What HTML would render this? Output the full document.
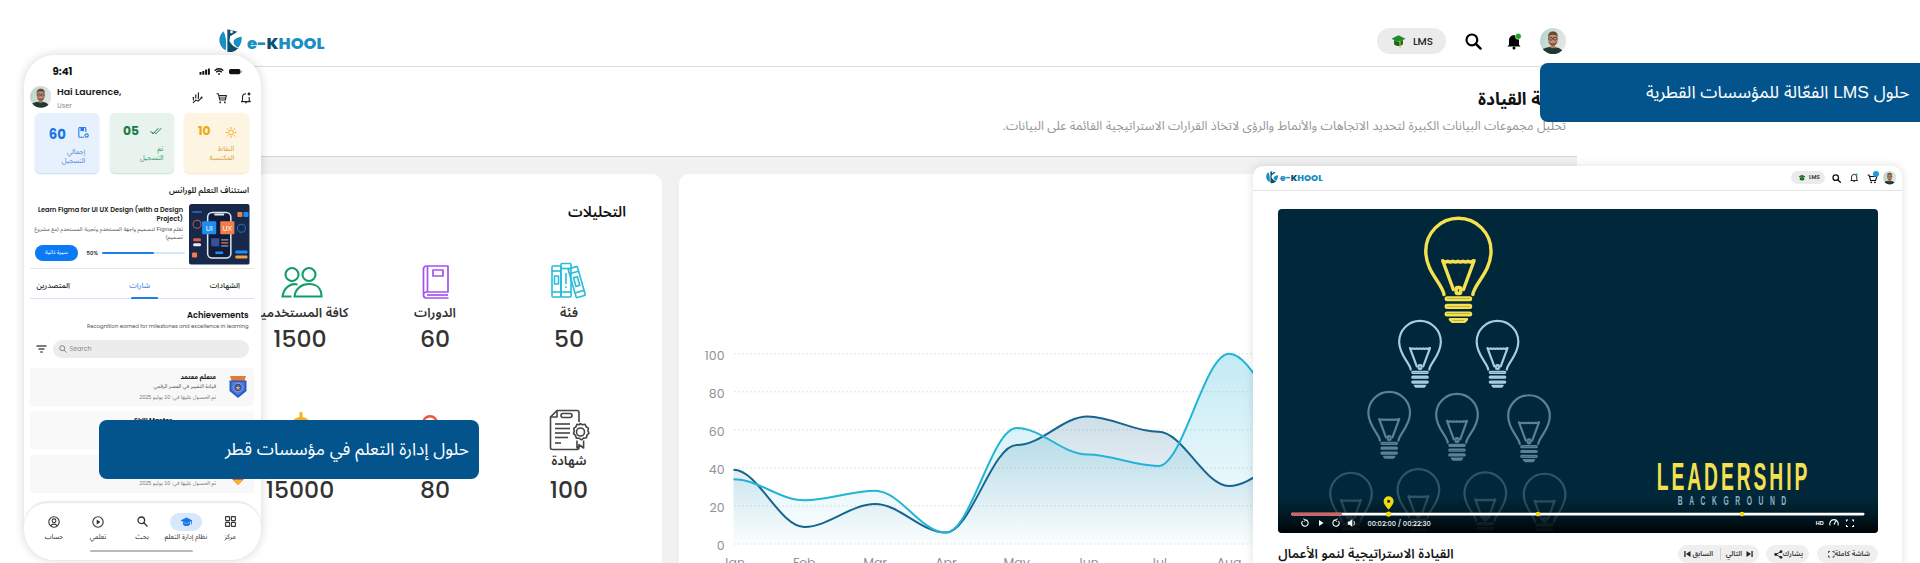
<!DOCTYPE html>
<html lang="ar">
<head>
<meta charset="utf-8">
<title>e-KHOOL LMS</title>
<style>
*{box-sizing:border-box;margin:0;padding:0}
html,body{width:1920px;height:563px;overflow:hidden;background:#fff}
body{position:relative;font-family:"Liberation Sans","Noto Sans Arabic","DejaVu Sans",sans-serif;color:#222}
.abs{position:absolute}
.ar{font-family:"Liberation Sans","Noto Sans Arabic","DejaVu Sans",sans-serif;direction:rtl}
.pp{font-family:"Poppins","Liberation Sans",sans-serif}
.ppar{font-family:"Poppins","Liberation Sans","Noto Sans Arabic","DejaVu Sans",sans-serif}
/* dashboard */
#hline{left:252px;top:65.5px;width:1700px;height:1.5px;background:#dcdcdc}
#gray{left:256px;top:156px;width:1321px;height:420px;background:#f1f1f1;border-top:1.5px solid #d5d5d5}
.card{background:#fff;border-radius:10px}
#c1{left:256px;top:174px;width:406px;height:420px}
#c2{left:679px;top:174px;width:641px;height:420px}
.pill{background:#ebebeb;border-radius:14px}
.banner{background:#03548c;color:#fff;border-radius:8px}
.lbl{text-align:center;font-size:13px;font-weight:600;color:#333;white-space:nowrap}
.num{text-align:center;font-size:23.5px;font-weight:500;color:#333;white-space:nowrap;line-height:1.3}
.av{border-radius:50%;background:radial-gradient(circle at 50% 40%, #c99a7d 0 22%, transparent 23%), radial-gradient(ellipse at 50% 100%, #2c3b3a 0 38%, transparent 39%), linear-gradient(135deg,#b5c9c2,#dfe7e3);}
.vbtn{height:18px;border-radius:9px;background:#efefef}
.vbt{font-size:7px;font-weight:600;color:#3a3a3a;white-space:nowrap;line-height:11px}
.scard{width:64.5px;height:59.5px;border-radius:5.5px}
.snum{font-size:12.3px;font-weight:700;line-height:16px}
.slbl{font-size:6.8px;line-height:9.6px;text-align:right;white-space:nowrap}
.tab{font-size:7.6px;font-weight:500;white-space:nowrap;line-height:14px}
.ltitle{font-size:6.4px;font-weight:700;color:#1b1b1b;white-space:nowrap;line-height:9px}
.lsub{font-size:5.3px;color:#555;white-space:nowrap;line-height:8px}
.nlbl{font-size:6.8px;color:#2a2a2a;text-align:center;white-space:nowrap;line-height:10px}
</style>
</head>
<body>
<!-- ============ DASHBOARD (background) ============ -->
<div id="hline" class="abs"></div>
<div id="gray" class="abs"></div>
<div id="c1" class="abs card"></div>
<div id="c2" class="abs card"></div>


<!-- chart -->
<svg class="abs" style="left:0;top:0" width="1920" height="563" viewBox="0 0 1920 563">
<defs>
<linearGradient id="gD" x1="0" y1="0" x2="0" y2="1"><stop offset="0" stop-color="#1c6e98" stop-opacity="0.22"/><stop offset="1" stop-color="#1c6e98" stop-opacity="0.0"/></linearGradient>
<linearGradient id="gC" x1="0" y1="0" x2="0" y2="1"><stop offset="0" stop-color="#27b6d6" stop-opacity="0.28"/><stop offset="1" stop-color="#27b6d6" stop-opacity="0.02"/></linearGradient>
</defs>
<g font-family="Poppins, Liberation Sans, sans-serif" font-size="12.5" fill="#8d939b"><text x="724.5" y="549.8" text-anchor="end">0</text><text x="724.5" y="511.7" text-anchor="end">20</text><text x="724.5" y="473.7" text-anchor="end">40</text><text x="724.5" y="435.7" text-anchor="end">60</text><text x="724.5" y="397.6" text-anchor="end">80</text><text x="724.5" y="359.6" text-anchor="end">100</text><text x="733.5" y="567" text-anchor="middle">Jan</text><text x="804.3" y="567" text-anchor="middle">Feb</text><text x="875.1" y="567" text-anchor="middle">Mar</text><text x="945.9" y="567" text-anchor="middle">Apr</text><text x="1016.7" y="567" text-anchor="middle">May</text><text x="1087.5" y="567" text-anchor="middle">Jun</text><text x="1158.3" y="567" text-anchor="middle">Jul</text><text x="1229.1" y="567" text-anchor="middle">Aug</text><text x="1299.9" y="567" text-anchor="middle">Sep</text></g>
<line x1="734" y1="544.0" x2="1300" y2="544.0" stroke="#e3e3e3" stroke-width="1" stroke-dasharray="2,2"/><line x1="734" y1="505.9" x2="1300" y2="505.9" stroke="#e3e3e3" stroke-width="1" stroke-dasharray="2,2"/><line x1="734" y1="467.9" x2="1300" y2="467.9" stroke="#e3e3e3" stroke-width="1" stroke-dasharray="2,2"/><line x1="734" y1="429.9" x2="1300" y2="429.9" stroke="#e3e3e3" stroke-width="1" stroke-dasharray="2,2"/><line x1="734" y1="391.8" x2="1300" y2="391.8" stroke="#e3e3e3" stroke-width="1" stroke-dasharray="2,2"/><line x1="734" y1="353.8" x2="1300" y2="353.8" stroke="#e3e3e3" stroke-width="1" stroke-dasharray="2,2"/>
<path d="M733.5,469.8 C758.3,469.8 779.5,526.9 804.3,526.9 C829.1,526.9 850.3,504.0 875.1,504.0 C899.9,504.0 921.1,532.6 945.9,532.6 C970.7,532.6 991.9,445.1 1016.7,445.1 C1041.5,445.1 1062.7,416.5 1087.5,416.5 C1112.3,416.5 1133.5,431.8 1158.3,431.8 C1183.1,431.8 1204.3,486.0 1229.1,486.0 C1253.9,486.0 1275.1,454.6 1299.9,454.6 L1299.9,544 L733.5,544 Z" fill="url(#gD)"/>
<path d="M733.5,479.3 C758.3,479.3 779.5,500.2 804.3,500.2 C829.1,500.2 850.3,490.7 875.1,490.7 C899.9,490.7 921.1,532.6 945.9,532.6 C970.7,532.6 991.9,427.9 1016.7,427.9 C1041.5,427.9 1062.7,454.6 1087.5,454.6 C1112.3,454.6 1133.5,466.0 1158.3,466.0 C1183.1,466.0 1204.3,353.8 1229.1,353.8 C1253.9,353.8 1275.1,426.0 1299.9,426.0 L1299.9,544 L733.5,544 Z" fill="url(#gC)"/>
<path d="M733.5,469.8 C758.3,469.8 779.5,526.9 804.3,526.9 C829.1,526.9 850.3,504.0 875.1,504.0 C899.9,504.0 921.1,532.6 945.9,532.6 C970.7,532.6 991.9,445.1 1016.7,445.1 C1041.5,445.1 1062.7,416.5 1087.5,416.5 C1112.3,416.5 1133.5,431.8 1158.3,431.8 C1183.1,431.8 1204.3,486.0 1229.1,486.0 C1253.9,486.0 1275.1,454.6 1299.9,454.6" fill="none" stroke="#17658f" stroke-width="2"/>
<path d="M733.5,479.3 C758.3,479.3 779.5,500.2 804.3,500.2 C829.1,500.2 850.3,490.7 875.1,490.7 C899.9,490.7 921.1,532.6 945.9,532.6 C970.7,532.6 991.9,427.9 1016.7,427.9 C1041.5,427.9 1062.7,454.6 1087.5,454.6 C1112.3,454.6 1133.5,466.0 1158.3,466.0 C1183.1,466.0 1204.3,353.8 1229.1,353.8 C1253.9,353.8 1275.1,426.0 1299.9,426.0" fill="none" stroke="#22b5d3" stroke-width="2"/>
</svg>
<!-- analytics card content -->
<div class="abs ar" style="right:1294px;top:197px;font-size:14.6px;font-weight:600;color:#111;white-space:nowrap">التحليلات</div>

<!-- row1 icons -->
<svg class="abs" style="left:550px;top:262px" width="38" height="37" viewBox="0 0 38 37" fill="none" stroke="#27bcd9" stroke-width="1.6" stroke-linejoin="round">
  <rect x="2" y="4" width="9" height="31" rx="1"/><line x1="2" y1="9" x2="11" y2="9"/><line x1="2" y1="30" x2="11" y2="30"/><rect x="4.5" y="14" width="4" height="8"/>
  <rect x="11" y="1.5" width="10" height="33.5" rx="1"/><line x1="11" y1="6.5" x2="21" y2="6.5"/><line x1="11" y1="30" x2="21" y2="30"/><line x1="16" y1="11" x2="16" y2="22"/><line x1="16" y1="24.5" x2="16" y2="26"/>
  <g transform="rotate(-16 27 20)"><rect x="22" y="5" width="9.5" height="30" rx="1"/><line x1="22" y1="10" x2="31.5" y2="10"/><line x1="22" y1="30" x2="31.5" y2="30"/><rect x="24.8" y="15" width="4" height="9"/></g>
</svg>
<svg class="abs" style="left:421px;top:264.5px" width="29" height="35" viewBox="0 0 29 35" fill="none" stroke="#a550f0" stroke-width="1.7" stroke-linejoin="round">
  <path d="M2.5,29 V4 a3,3 0 0 1 3,-3 H27 V27 H5.5 a3,3 0 0 0 0,6 H27.5"/><line x1="6.5" y1="1" x2="6.5" y2="27"/><line x1="6" y1="30" x2="27" y2="30"/><rect x="12" y="5" width="10" height="6"/>
</svg>
<svg class="abs" style="left:279.5px;top:266px" width="43" height="33" viewBox="0 0 43 33" fill="none" stroke="#129e68" stroke-width="2.1">
  <circle cx="12" cy="8.5" r="6.5"/><circle cx="29" cy="8.5" r="6.5"/>
  <path d="M17.5,18.5 C11,17 4,21 2.5,30.5 H11.5"/><path d="M14.5,30.5 C15.5,22 22,18 29,18 C36,18 41.5,22 41.5,30.5 Z"/>
</svg>

<div class="abs ar lbl" style="left:509px;width:120px;top:298.5px">فئة</div>
<div class="abs ar lbl" style="left:375px;width:120px;top:298.5px">الدورات</div>
<div class="abs ar lbl" style="left:240px;width:120px;top:298.5px">كافة المستخدمين</div>
<div class="abs pp num" style="left:509px;width:120px;top:324px">50</div>
<div class="abs pp num" style="left:375px;width:120px;top:324px">60</div>
<div class="abs pp num" style="left:240px;width:120px;top:324px">1500</div>

<!-- row2 -->
<svg class="abs" style="left:548px;top:409px" width="42" height="43" viewBox="0 0 42 43" fill="none" stroke="#444" stroke-width="1.6" stroke-linejoin="round">
  <path d="M31,13 V3.5 a2,2 0 0 0 -2,-2 H9 L2.5,8 V38.5 a2,2 0 0 0 2,2 H29 a2,2 0 0 0 2,-2 V35"/><path d="M9,1.5 V8 H2.5"/>
  <rect x="13" y="4.5" width="11" height="4" rx="2"/>
  <line x1="7" y1="15" x2="22" y2="15"/><line x1="7" y1="19.5" x2="22" y2="19.5"/><line x1="7" y1="24" x2="22" y2="24"/><line x1="7" y1="28.5" x2="20" y2="28.5"/><line x1="7" y1="34" x2="13" y2="34"/>
  <path d="M32,14.5 l2.5,1.3 2.6,-0.6 1,2.5 2.3,1.4 -0.5,2.7 1,2.5 -2,1.8 -0.5,2.7 -2.8,0.3 -2.2,1.7 -2.3,-1.6 -2.8,-0.1 -0.8,-2.7 -2,-1.8 0.8,-2.6 -0.6,-2.7 2.3,-1.5 0.9,-2.6 2.6,0.5 Z"/>
  <circle cx="32.5" cy="23" r="4"/>
  <path d="M29,31.5 V39 l3.3,-2.5 3.3,2.5 V31.5"/>
</svg>
<svg class="abs" style="left:290px;top:411px" width="22" height="14" viewBox="0 0 22 14"><rect x="9.5" y="1" width="3" height="6" rx="1" fill="#f2b31b"/><ellipse cx="11" cy="11" rx="8" ry="5" fill="#f2b31b"/></svg>
<svg class="abs" style="left:421px;top:413px" width="18" height="12" viewBox="0 0 18 12"><circle cx="9" cy="10" r="6.8" fill="none" stroke="#e9583b" stroke-width="2.4"/></svg>

<div class="abs ar lbl" style="left:509px;width:120px;top:446.5px">شهادة</div>
<div class="abs pp num" style="left:509px;width:120px;top:475px">100</div>
<div class="abs pp num" style="left:375px;width:120px;top:475px">80</div>
<div class="abs pp num" style="left:240px;width:120px;top:475px">15000</div>

<!-- logo -->
<div class="abs" style="left:219.4px;top:28.8px"><svg viewBox="0 0 24 24" width="23.6" height="23.6" style="display:block"><circle cx="11.8" cy="11.7" r="11.7" fill="#fff"/><path d="M4.6,2.3 A11.7,11.7 0 0 0 6.8,21.7 C7.8,16 7.6,8 4.6,2.3 Z" fill="#1b8ec2"/><path d="M8.5,0.3 L18.8,2.9 L11.3,7.5 L10.6,12.2 C12.5,16 15.5,18.8 19.6,19.7 A11.7,11.7 0 0 1 8.5,23.2 Z" fill="#0d4e6e"/><circle cx="12.7" cy="3.05" r="1.4" fill="#fff"/><path d="M23,8 C18,8.5 14.5,11 14.8,13.4 C15,16 17,18 19.9,18.8 C22.5,15.5 23.5,11.5 23,8 Z" fill="#1b8ec2"/></svg></div>
<div class="abs pp" style="left:247px;top:30.5px;font-size:16.4px;font-weight:800;color:#1b8ec2;letter-spacing:0px">e-<span style="color:#0c4e6d">K</span>HOOL</div>

<!-- header right -->
<div class="abs pill" style="left:1377px;top:28px;width:69px;height:26px"></div>
<div class="abs pp" style="left:1413px;top:33.5px;font-size:10.4px;font-weight:500;color:#222">LMS</div>
<svg class="abs" style="left:1390.5px;top:33.5px" width="15" height="15" viewBox="0 0 16 16"><path d="M0.5,5 L8,1.3 L15.5,5 L8,8.7 Z" fill="#1f8c27"/><path d="M3.3,6.5 V10.8 C5.5,13.4 10.5,13.4 12.7,10.8 V6.5 L8,8.9 Z" fill="#15661c"/><path d="M8.3,7.6 L9.6,8.4 V15" stroke="#f2b632" stroke-width="1.1" fill="none"/></svg>
<svg class="abs" style="left:1464.5px;top:32.5px" width="17" height="17" viewBox="0 0 17 17"><circle cx="6.9" cy="6.9" r="5.4" fill="none" stroke="#000" stroke-width="2.2"/><line x1="10.8" y1="10.8" x2="15.6" y2="15.6" stroke="#000" stroke-width="2.4" stroke-linecap="round"/></svg>
<svg class="abs" style="left:1505.5px;top:32.5px" width="16" height="17" viewBox="0 0 16 17"><path d="M3,11.8 V7.6 C3,4.3 5.2,2.3 8,2.3 C10.8,2.3 13,4.3 13,7.6 V11.8 L14.6,13.6 H1.4 Z" fill="#000"/><circle cx="8" cy="15" r="1.5" fill="#000"/><circle cx="12.3" cy="3.3" r="3" fill="#1ea51e" stroke="#fff" stroke-width="0.6"/></svg>
<svg class="abs" style="left:1540px;top:27.5px" width="26.2" height="26.2" viewBox="0 0 26 26"><defs><linearGradient id="aga" x1="0" y1="0" x2="1" y2="0.3"><stop offset="0" stop-color="#b4d5c9"/><stop offset="1" stop-color="#e3e6e3"/></linearGradient><clipPath id="aca"><circle cx="13" cy="13" r="13"/></clipPath></defs><g clip-path="url(#aca)"><rect width="26" height="26" fill="url(#aga)"/><path d="M-1,27 C0,20.5 6,18.6 12.5,18.8 C18.5,19 22.5,20.5 24.5,27 Z" fill="#1f3a33"/><rect x="10.5" y="15" width="4.5" height="5" fill="#b07d65"/><ellipse cx="12.8" cy="11.2" rx="4.7" ry="5.9" fill="#c68f74"/><path d="M8.2,12 C8.6,16.5 10.5,17.6 12.8,17.6 C15.2,17.6 17,16.5 17.4,12 C16.5,14.5 15,15 12.8,15 C10.6,15 9,14.5 8.2,12 Z" fill="#8c5a44"/><path d="M7.9,9.5 C7.6,5 10.3,3.4 12.9,3.4 C15.8,3.4 17.9,5 17.6,9.5 C16.8,7.2 15,6.6 12.8,6.6 C10.6,6.6 8.8,7.2 7.9,9.5 Z" fill="#6a4634"/><rect x="8.6" y="9.3" width="3.6" height="2.6" rx="0.8" fill="none" stroke="#2a2a2a" stroke-width="0.7"/><rect x="13.4" y="9.3" width="3.6" height="2.6" rx="0.8" fill="none" stroke="#2a2a2a" stroke-width="0.7"/></g></svg>

<!-- title -->
<div class="abs ar" style="right:354px;top:80.8px;font-size:17.3px;font-weight:700;color:#111;white-space:nowrap">لوحة القيادة</div>
<div class="abs ar" style="right:354px;top:113px;font-size:12.4px;color:#959595;white-space:nowrap">تحليل مجموعات البيانات الكبيرة لتحديد الاتجاهات والأنماط والرؤى لاتخاذ القرارات الاستراتيجية القائمة على البيانات.</div>


<!-- ============ VIDEO CARD ============ -->
<div id="vcard" class="abs" style="left:1253px;top:166px;width:649px;height:420px;background:#fff;border-radius:10px;box-shadow:0 0 9px 1px rgba(0,0,0,0.1)">
  <div class="abs" style="left:12.5px;top:5.3px"><svg viewBox="0 0 24 24" width="12.5" height="12.5" style="display:block"><circle cx="11.8" cy="11.7" r="11.7" fill="#fff"/><path d="M4.6,2.3 A11.7,11.7 0 0 0 6.8,21.7 C7.8,16 7.6,8 4.6,2.3 Z" fill="#1b8ec2"/><path d="M8.5,0.3 L18.8,2.9 L11.3,7.5 L10.6,12.2 C12.5,16 15.5,18.8 19.6,19.7 A11.7,11.7 0 0 1 8.5,23.2 Z" fill="#0d4e6e"/><circle cx="12.7" cy="3.05" r="1.4" fill="#fff"/><path d="M23,8 C18,8.5 14.5,11 14.8,13.4 C15,16 17,18 19.9,18.8 C22.5,15.5 23.5,11.5 23,8 Z" fill="#1b8ec2"/></svg></div>
  <div class="abs pp" style="left:27px;top:6.3px;font-size:9px;font-weight:800;color:#1b8ec2;letter-spacing:0">e-<span style="color:#0c4e6d">K</span>HOOL</div>
  <div class="abs pill" style="left:538px;top:5.2px;width:34px;height:13px;border-radius:7px"></div>
  <svg class="abs" style="left:545px;top:7.5px" width="8" height="8" viewBox="0 0 16 16"><path d="M1,5 L8,1.5 L15,5 L8,8.5 Z" fill="#1d7f22"/><path d="M3.5,6.5 V11 C6,13.5 10,13.5 12.5,11 V6.5 L8,9 Z" fill="#14601a"/></svg>
  <div class="abs pp" style="left:556px;top:7.3px;font-size:5.5px;font-weight:600;color:#333">LMS</div>
  <svg class="abs" style="left:579px;top:7.5px" width="9.2" height="9.2" viewBox="0 0 16 16"><circle cx="6.5" cy="6.5" r="4.8" fill="none" stroke="#111" stroke-width="2.2"/><line x1="10" y1="10" x2="14.5" y2="14.5" stroke="#111" stroke-width="2.4" stroke-linecap="round"/></svg>
  <svg class="abs" style="left:597px;top:7px" width="8.4" height="9.4" viewBox="0 0 16 18"><path d="M3,13 V8 C3,4.5 5.5,2.5 8,2.5 C10.5,2.5 13,4.5 13,8 V13 L14.5,14.5 H1.5 Z" fill="none" stroke="#111" stroke-width="1.8" stroke-linejoin="round"/><path d="M6.5,16 H9.5" stroke="#111" stroke-width="1.6"/><circle cx="12.5" cy="3" r="2.2" fill="#2bb04a"/></svg>
  <svg class="abs" style="left:614px;top:8px" width="11" height="10" viewBox="0 0 18 16"><path d="M1,1.5 H3.5 L6,10.5 H14 L16,4 H5" fill="none" stroke="#111" stroke-width="1.8" stroke-linejoin="round"/><circle cx="7" cy="13.5" r="1.5" fill="#111"/><circle cx="13" cy="13.5" r="1.5" fill="#111"/></svg>
  <div class="abs" style="left:619.8px;top:4.7px;width:6px;height:6px;border-radius:50%;background:#1f9ad6"></div>
  <svg class="abs" style="left:630px;top:5px" width="13.5" height="13.5" viewBox="0 0 26 26"><defs><linearGradient id="agb" x1="0" y1="0" x2="1" y2="0.3"><stop offset="0" stop-color="#b4d5c9"/><stop offset="1" stop-color="#e3e6e3"/></linearGradient><clipPath id="acb"><circle cx="13" cy="13" r="13"/></clipPath></defs><g clip-path="url(#acb)"><rect width="26" height="26" fill="url(#agb)"/><path d="M-1,27 C0,20.5 6,18.6 12.5,18.8 C18.5,19 22.5,20.5 24.5,27 Z" fill="#1f3a33"/><rect x="10.5" y="15" width="4.5" height="5" fill="#b07d65"/><ellipse cx="12.8" cy="11.2" rx="4.7" ry="5.9" fill="#c68f74"/><path d="M8.2,12 C8.6,16.5 10.5,17.6 12.8,17.6 C15.2,17.6 17,16.5 17.4,12 C16.5,14.5 15,15 12.8,15 C10.6,15 9,14.5 8.2,12 Z" fill="#8c5a44"/><path d="M7.9,9.5 C7.6,5 10.3,3.4 12.9,3.4 C15.8,3.4 17.9,5 17.6,9.5 C16.8,7.2 15,6.6 12.8,6.6 C10.6,6.6 8.8,7.2 7.9,9.5 Z" fill="#6a4634"/><rect x="8.6" y="9.3" width="3.6" height="2.6" rx="0.8" fill="none" stroke="#2a2a2a" stroke-width="0.7"/><rect x="13.4" y="9.3" width="3.6" height="2.6" rx="0.8" fill="none" stroke="#2a2a2a" stroke-width="0.7"/></g></svg>
  <div class="abs" style="left:0;top:23.8px;width:649px;height:1px;background:#e4e4e4"></div>

  <div class="abs" style="left:25px;top:42.5px;width:600px;height:324.5px;background:#01283a;border-radius:4px;overflow:hidden">
    <svg class="abs" style="left:0;top:0" width="600" height="325" viewBox="1278 208.5 600 325">
<g transform="translate(1458.4,216.3) scale(1.010)" fill="none" stroke="#f5e04f" stroke-width="3.40" stroke-linejoin="round" stroke-linecap="round" opacity="1"><path d="M-14.3,77 C-15.5,66 -32.3,55 -32.3,33.8 A32.3,32.3 0 1 1 32.3,33.8 C32.3,55 15.5,66 14.3,77"/><path d="M-15.5,43.5 L-5,72 M15.5,43.5 L5,72 M-15.5,43.5 q2.5,2 5,0.5 q2.5,1.5 5,0 q2.5,1.5 5,0 q2.5,1.5 5,0 q2.5,1.5 5,0 q2.5,1.5 5,-0.5"/><rect x="-2.2" y="70" width="4.4" height="6" rx="1.5"/><rect x="-12.5" y="79.9" width="25" height="2.6" rx="1.3" stroke-width="2.4"/><rect x="-12.5" y="87.4" width="25" height="2.6" rx="1.3" stroke-width="2.4"/><rect x="-12.5" y="94.9" width="25" height="2.6" rx="1.3" stroke-width="2.4"/><path d="M-8.5,101.5 H8.5 L6,104 H-6 Z" stroke-width="2.4"/></g>
<g transform="translate(1420.0,319.5) scale(0.645)" fill="none" stroke="#a6cee0" stroke-width="3.40" stroke-linejoin="round" stroke-linecap="round" opacity="1"><path d="M-14.3,77 C-15.5,66 -32.3,55 -32.3,33.8 A32.3,32.3 0 1 1 32.3,33.8 C32.3,55 15.5,66 14.3,77"/><path d="M-15.5,43.5 L-5,72 M15.5,43.5 L5,72 M-15.5,43.5 q2.5,2 5,0.5 q2.5,1.5 5,0 q2.5,1.5 5,0 q2.5,1.5 5,0 q2.5,1.5 5,0 q2.5,1.5 5,-0.5"/><rect x="-2.2" y="70" width="4.4" height="6" rx="1.5"/><rect x="-12.5" y="79.9" width="25" height="2.6" rx="1.3" stroke-width="2.4"/><rect x="-12.5" y="87.4" width="25" height="2.6" rx="1.3" stroke-width="2.4"/><rect x="-12.5" y="94.9" width="25" height="2.6" rx="1.3" stroke-width="2.4"/><path d="M-8.5,101.5 H8.5 L6,104 H-6 Z" stroke-width="2.4"/></g>
<g transform="translate(1497.5,319.5) scale(0.645)" fill="none" stroke="#a6cee0" stroke-width="3.40" stroke-linejoin="round" stroke-linecap="round" opacity="1"><path d="M-14.3,77 C-15.5,66 -32.3,55 -32.3,33.8 A32.3,32.3 0 1 1 32.3,33.8 C32.3,55 15.5,66 14.3,77"/><path d="M-15.5,43.5 L-5,72 M15.5,43.5 L5,72 M-15.5,43.5 q2.5,2 5,0.5 q2.5,1.5 5,0 q2.5,1.5 5,0 q2.5,1.5 5,0 q2.5,1.5 5,0 q2.5,1.5 5,-0.5"/><rect x="-2.2" y="70" width="4.4" height="6" rx="1.5"/><rect x="-12.5" y="79.9" width="25" height="2.6" rx="1.3" stroke-width="2.4"/><rect x="-12.5" y="87.4" width="25" height="2.6" rx="1.3" stroke-width="2.4"/><rect x="-12.5" y="94.9" width="25" height="2.6" rx="1.3" stroke-width="2.4"/><path d="M-8.5,101.5 H8.5 L6,104 H-6 Z" stroke-width="2.4"/></g>
<g transform="translate(1389.2,390.5) scale(0.645)" fill="none" stroke="#5b8195" stroke-width="3.40" stroke-linejoin="round" stroke-linecap="round" opacity="1"><path d="M-14.3,77 C-15.5,66 -32.3,55 -32.3,33.8 A32.3,32.3 0 1 1 32.3,33.8 C32.3,55 15.5,66 14.3,77"/><path d="M-15.5,43.5 L-5,72 M15.5,43.5 L5,72 M-15.5,43.5 q2.5,2 5,0.5 q2.5,1.5 5,0 q2.5,1.5 5,0 q2.5,1.5 5,0 q2.5,1.5 5,0 q2.5,1.5 5,-0.5"/><rect x="-2.2" y="70" width="4.4" height="6" rx="1.5"/><rect x="-12.5" y="79.9" width="25" height="2.6" rx="1.3" stroke-width="2.4"/><rect x="-12.5" y="87.4" width="25" height="2.6" rx="1.3" stroke-width="2.4"/><rect x="-12.5" y="94.9" width="25" height="2.6" rx="1.3" stroke-width="2.4"/><path d="M-8.5,101.5 H8.5 L6,104 H-6 Z" stroke-width="2.4"/></g>
<g transform="translate(1457.0,392.4) scale(0.645)" fill="none" stroke="#5b8195" stroke-width="3.40" stroke-linejoin="round" stroke-linecap="round" opacity="1"><path d="M-14.3,77 C-15.5,66 -32.3,55 -32.3,33.8 A32.3,32.3 0 1 1 32.3,33.8 C32.3,55 15.5,66 14.3,77"/><path d="M-15.5,43.5 L-5,72 M15.5,43.5 L5,72 M-15.5,43.5 q2.5,2 5,0.5 q2.5,1.5 5,0 q2.5,1.5 5,0 q2.5,1.5 5,0 q2.5,1.5 5,0 q2.5,1.5 5,-0.5"/><rect x="-2.2" y="70" width="4.4" height="6" rx="1.5"/><rect x="-12.5" y="79.9" width="25" height="2.6" rx="1.3" stroke-width="2.4"/><rect x="-12.5" y="87.4" width="25" height="2.6" rx="1.3" stroke-width="2.4"/><rect x="-12.5" y="94.9" width="25" height="2.6" rx="1.3" stroke-width="2.4"/><path d="M-8.5,101.5 H8.5 L6,104 H-6 Z" stroke-width="2.4"/></g>
<g transform="translate(1529.0,393.8) scale(0.645)" fill="none" stroke="#5b8195" stroke-width="3.40" stroke-linejoin="round" stroke-linecap="round" opacity="1"><path d="M-14.3,77 C-15.5,66 -32.3,55 -32.3,33.8 A32.3,32.3 0 1 1 32.3,33.8 C32.3,55 15.5,66 14.3,77"/><path d="M-15.5,43.5 L-5,72 M15.5,43.5 L5,72 M-15.5,43.5 q2.5,2 5,0.5 q2.5,1.5 5,0 q2.5,1.5 5,0 q2.5,1.5 5,0 q2.5,1.5 5,0 q2.5,1.5 5,-0.5"/><rect x="-2.2" y="70" width="4.4" height="6" rx="1.5"/><rect x="-12.5" y="79.9" width="25" height="2.6" rx="1.3" stroke-width="2.4"/><rect x="-12.5" y="87.4" width="25" height="2.6" rx="1.3" stroke-width="2.4"/><rect x="-12.5" y="94.9" width="25" height="2.6" rx="1.3" stroke-width="2.4"/><path d="M-8.5,101.5 H8.5 L6,104 H-6 Z" stroke-width="2.4"/></g>
<g transform="translate(1351.0,471.5) scale(0.645)" fill="none" stroke="#2f5467" stroke-width="3.40" stroke-linejoin="round" stroke-linecap="round" opacity="1"><path d="M-14.3,77 C-15.5,66 -32.3,55 -32.3,33.8 A32.3,32.3 0 1 1 32.3,33.8 C32.3,55 15.5,66 14.3,77"/><path d="M-15.5,43.5 L-5,72 M15.5,43.5 L5,72 M-15.5,43.5 q2.5,2 5,0.5 q2.5,1.5 5,0 q2.5,1.5 5,0 q2.5,1.5 5,0 q2.5,1.5 5,0 q2.5,1.5 5,-0.5"/><rect x="-2.2" y="70" width="4.4" height="6" rx="1.5"/><rect x="-12.5" y="79.9" width="25" height="2.6" rx="1.3" stroke-width="2.4"/><rect x="-12.5" y="87.4" width="25" height="2.6" rx="1.3" stroke-width="2.4"/><rect x="-12.5" y="94.9" width="25" height="2.6" rx="1.3" stroke-width="2.4"/><path d="M-8.5,101.5 H8.5 L6,104 H-6 Z" stroke-width="2.4"/></g>
<g transform="translate(1418.4,467.6) scale(0.645)" fill="none" stroke="#2f5467" stroke-width="3.40" stroke-linejoin="round" stroke-linecap="round" opacity="1"><path d="M-14.3,77 C-15.5,66 -32.3,55 -32.3,33.8 A32.3,32.3 0 1 1 32.3,33.8 C32.3,55 15.5,66 14.3,77"/><path d="M-15.5,43.5 L-5,72 M15.5,43.5 L5,72 M-15.5,43.5 q2.5,2 5,0.5 q2.5,1.5 5,0 q2.5,1.5 5,0 q2.5,1.5 5,0 q2.5,1.5 5,0 q2.5,1.5 5,-0.5"/><rect x="-2.2" y="70" width="4.4" height="6" rx="1.5"/><rect x="-12.5" y="79.9" width="25" height="2.6" rx="1.3" stroke-width="2.4"/><rect x="-12.5" y="87.4" width="25" height="2.6" rx="1.3" stroke-width="2.4"/><rect x="-12.5" y="94.9" width="25" height="2.6" rx="1.3" stroke-width="2.4"/><path d="M-8.5,101.5 H8.5 L6,104 H-6 Z" stroke-width="2.4"/></g>
<g transform="translate(1485.3,470.9) scale(0.645)" fill="none" stroke="#2f5467" stroke-width="3.40" stroke-linejoin="round" stroke-linecap="round" opacity="1"><path d="M-14.3,77 C-15.5,66 -32.3,55 -32.3,33.8 A32.3,32.3 0 1 1 32.3,33.8 C32.3,55 15.5,66 14.3,77"/><path d="M-15.5,43.5 L-5,72 M15.5,43.5 L5,72 M-15.5,43.5 q2.5,2 5,0.5 q2.5,1.5 5,0 q2.5,1.5 5,0 q2.5,1.5 5,0 q2.5,1.5 5,0 q2.5,1.5 5,-0.5"/><rect x="-2.2" y="70" width="4.4" height="6" rx="1.5"/><rect x="-12.5" y="79.9" width="25" height="2.6" rx="1.3" stroke-width="2.4"/><rect x="-12.5" y="87.4" width="25" height="2.6" rx="1.3" stroke-width="2.4"/><rect x="-12.5" y="94.9" width="25" height="2.6" rx="1.3" stroke-width="2.4"/><path d="M-8.5,101.5 H8.5 L6,104 H-6 Z" stroke-width="2.4"/></g>
<g transform="translate(1544.6,472.3) scale(0.645)" fill="none" stroke="#2f5467" stroke-width="3.40" stroke-linejoin="round" stroke-linecap="round" opacity="1"><path d="M-14.3,77 C-15.5,66 -32.3,55 -32.3,33.8 A32.3,32.3 0 1 1 32.3,33.8 C32.3,55 15.5,66 14.3,77"/><path d="M-15.5,43.5 L-5,72 M15.5,43.5 L5,72 M-15.5,43.5 q2.5,2 5,0.5 q2.5,1.5 5,0 q2.5,1.5 5,0 q2.5,1.5 5,0 q2.5,1.5 5,0 q2.5,1.5 5,-0.5"/><rect x="-2.2" y="70" width="4.4" height="6" rx="1.5"/><rect x="-12.5" y="79.9" width="25" height="2.6" rx="1.3" stroke-width="2.4"/><rect x="-12.5" y="87.4" width="25" height="2.6" rx="1.3" stroke-width="2.4"/><rect x="-12.5" y="94.9" width="25" height="2.6" rx="1.3" stroke-width="2.4"/><path d="M-8.5,101.5 H8.5 L6,104 H-6 Z" stroke-width="2.4"/></g>
      <defs><linearGradient id="vg" x1="0" y1="0" x2="0" y2="1"><stop offset="0" stop-color="#000" stop-opacity="0"/><stop offset="0.45" stop-color="#000" stop-opacity="0.35"/><stop offset="1" stop-color="#000" stop-opacity="0.95"/></linearGradient></defs>
      <rect x="1278" y="497" width="600" height="37" fill="url(#vg)"/>
      <rect x="1291" y="512.3" width="573.5" height="2.6" rx="1.3" fill="#fff"/>
      <rect x="1291" y="512.3" width="51" height="2.6" rx="1.3" fill="#e45b5b"/>
      <circle cx="1388.6" cy="513.6" r="2.6" fill="#f4d90c"/><circle cx="1538" cy="513.6" r="2.3" fill="#f4d90c"/><circle cx="1742" cy="513.6" r="2.3" fill="#f4d90c"/>
      <path d="M1388.6,509.2 C1385.5,505.5 1383.6,503.5 1383.6,500.8 A5,5 0 0 1 1393.6,500.8 C1393.6,503.5 1391.7,505.5 1388.6,509.2 Z" fill="#f4d90c"/><circle cx="1388.6" cy="500.8" r="1.5" fill="#01283a"/>
      <g fill="none" stroke="#fff" stroke-width="1.1">
        <path d="M1302.5,520.5 A3.2,3.2 0 1 0 1305.5,519.4"/><path d="M1303.2,518.3 L1305.6,519.4 L1304,521.3" stroke-width="0.9"/>
        <path d="M1338.5,520.5 A3.2,3.2 0 1 1 1335.5,519.4"/><path d="M1337.8,518.3 L1335.4,519.4 L1337,521.3" stroke-width="0.9"/>
      </g>
      <path d="M1319,519.6 L1323.5,522.6 L1319,525.6 Z" fill="#fff"/>
      <path d="M1347.8,521 H1349.6 L1352.3,518.6 V526.6 L1349.6,524.2 H1347.8 Z" fill="#fff"/><path d="M1353.8,520.4 Q1355.2,522.6 1353.8,524.8" fill="none" stroke="#fff" stroke-width="0.9"/>
      <text x="1367.4" y="525" font-family="Poppins, Liberation Sans, sans-serif" font-size="6.7" font-weight="500" fill="#fff">00:02:00 / 00:22:30</text>
      <text x="1815.8" y="524.8" font-family="Liberation Sans, sans-serif" font-size="5.5" font-weight="700" fill="#fff">HD</text>
      <path d="M1830,525 A4.3,4.3 0 1 1 1838,525" fill="none" stroke="#fff" stroke-width="1.2"/><path d="M1834,524 L1836,520.3" stroke="#fff" stroke-width="1.1"/>
      <path d="M1846.5,521 V519.5 H1848 M1852,519.5 H1853.5 V521 M1853.5,524.5 V526 H1852 M1848,526 H1846.5 V524.5" fill="none" stroke="#fff" stroke-width="1.1"/>
    </svg>
    <div class="abs" style="left:253.75px;top:249.5px;width:400px;padding-left:5.9px;text-align:center;font-family:'Liberation Sans',sans-serif;font-weight:700;font-size:38.5px;line-height:38.5px;color:#f5e04f;transform:scaleX(0.5);transform-origin:center;letter-spacing:5.9px;white-space:nowrap">LEADERSHIP</div>
    <div class="abs" style="left:303.75px;top:286px;width:300px;padding-left:11.9px;text-align:center;font-family:'Liberation Sans',sans-serif;font-weight:700;font-size:12.3px;line-height:12.3px;color:#8fb3cb;transform:scaleX(0.55);transform-origin:center;letter-spacing:11.9px;white-space:nowrap">BACKGROUND</div>
  </div>

  <div class="abs ar" style="left:25.3px;top:374px;font-size:13px;font-weight:600;color:#161616;white-space:nowrap;direction:rtl">القيادة الاستراتيجية لنمو الأعمال</div>
  <div class="abs vbtn" style="left:425px;top:379px;width:80.5px"></div>
  <div class="abs vbtn" style="left:513.3px;top:379px;width:43px"></div>
  <div class="abs vbtn" style="left:564.2px;top:379px;width:61px"></div>
  <div class="abs" style="left:467px;top:382px;width:0.8px;height:11.5px;background:#d0d0d0"></div>
  <svg class="abs" style="left:430.5px;top:385px" width="7" height="6" viewBox="0 0 7 6"><rect x="0.3" y="0" width="1.3" height="6" fill="#222"/><path d="M6.5,0 V6 L2,3 Z" fill="#222"/></svg>
  <div class="abs ar vbt" style="right:189px;top:382px">السابق</div>
  <div class="abs ar vbt" style="right:160px;top:382px">التالي</div>
  <svg class="abs" style="left:493px;top:385px" width="7" height="6" viewBox="0 0 7 6"><path d="M0.5,0 V6 L5,3 Z" fill="#222"/><rect x="5.4" y="0" width="1.3" height="6" fill="#222"/></svg>
  <svg class="abs" style="left:520.5px;top:383.5px" width="9" height="9" viewBox="0 0 9 9" fill="#222"><circle cx="7" cy="1.7" r="1.4"/><circle cx="1.7" cy="4.5" r="1.4"/><circle cx="7" cy="7.3" r="1.4"/><path d="M7,1.7 L1.7,4.5 L7,7.3" fill="none" stroke="#222" stroke-width="0.9"/></svg>
  <div class="abs ar vbt" style="right:99px;top:382px">يشارك</div>
  <svg class="abs" style="left:575px;top:385px" width="6.5" height="6.5" viewBox="0 0 7 7" fill="none" stroke="#222" stroke-width="0.9"><path d="M0.5,2.2 V0.5 H2.2 M4.8,0.5 H6.5 V2.2 M6.5,4.8 V6.5 H4.8 M2.2,6.5 H0.5 V4.8"/></svg>
  <div class="abs ar vbt" style="right:32px;top:382px">شاشة كاملة</div>
</div>

<!-- ============ PHONE ============ -->
<div id="phone" class="abs" style="left:24px;top:55px;width:237px;height:505px;background:#fff;border-radius:31px;box-shadow:0 0 10px 1px rgba(0,0,0,0.14);overflow:hidden">
 <div class="abs" style="left:-24px;top:-55px;width:300px;height:620px">
  <!-- status bar -->
  <div class="abs pp" style="left:52.5px;top:65px;font-size:10.2px;font-weight:700;color:#111;line-height:14px">9:41</div>
  <svg class="abs" style="left:198.5px;top:67.5px" width="45" height="7" viewBox="0 0 45 7">
    <rect x="0.5" y="4" width="2" height="2.8" rx="0.5" fill="#111"/><rect x="3.3" y="3" width="2" height="3.8" rx="0.5" fill="#111"/><rect x="6.1" y="1.6" width="2" height="5.2" rx="0.5" fill="#111"/><rect x="8.9" y="0.4" width="2" height="6.4" rx="0.5" fill="#111"/>
    <path d="M15.6,2.6 A6.2,6.2 0 0 1 24.4,2.6" fill="none" stroke="#111" stroke-width="1.3"/><path d="M17.2,4.2 A3.9,3.9 0 0 1 22.8,4.2" fill="none" stroke="#111" stroke-width="1.3"/><circle cx="20" cy="6" r="0.9" fill="#111"/>
    <rect x="30" y="0.9" width="11.5" height="5.4" rx="1.8" fill="#111"/><rect x="42.3" y="2.6" width="1" height="2" rx="0.4" fill="#999"/>
  </svg>
  <!-- user -->
  <svg class="abs" style="left:29.7px;top:86.4px" width="21.8" height="21.8" viewBox="0 0 26 26"><defs><linearGradient id="agc" x1="0" y1="0" x2="1" y2="0.3"><stop offset="0" stop-color="#b4d5c9"/><stop offset="1" stop-color="#e3e6e3"/></linearGradient><clipPath id="acc"><circle cx="13" cy="13" r="13"/></clipPath></defs><g clip-path="url(#acc)"><rect width="26" height="26" fill="url(#agc)"/><path d="M-1,27 C0,20.5 6,18.6 12.5,18.8 C18.5,19 22.5,20.5 24.5,27 Z" fill="#1f3a33"/><rect x="10.5" y="15" width="4.5" height="5" fill="#b07d65"/><ellipse cx="12.8" cy="11.2" rx="4.7" ry="5.9" fill="#c68f74"/><path d="M8.2,12 C8.6,16.5 10.5,17.6 12.8,17.6 C15.2,17.6 17,16.5 17.4,12 C16.5,14.5 15,15 12.8,15 C10.6,15 9,14.5 8.2,12 Z" fill="#8c5a44"/><path d="M7.9,9.5 C7.6,5 10.3,3.4 12.9,3.4 C15.8,3.4 17.9,5 17.6,9.5 C16.8,7.2 15,6.6 12.8,6.6 C10.6,6.6 8.8,7.2 7.9,9.5 Z" fill="#6a4634"/><rect x="8.6" y="9.3" width="3.6" height="2.6" rx="0.8" fill="none" stroke="#2a2a2a" stroke-width="0.7"/><rect x="13.4" y="9.3" width="3.6" height="2.6" rx="0.8" fill="none" stroke="#2a2a2a" stroke-width="0.7"/></g></svg>
  <div class="abs pp" style="left:57px;top:85px;font-size:9.4px;font-weight:600;color:#1b1b1b;line-height:13px;white-space:nowrap">Hai Laurence,</div>
  <div class="abs pp" style="left:57.3px;top:100.5px;font-size:6.6px;color:#8a8a8a;line-height:9px">User</div>
  <svg class="abs" style="left:192px;top:92px" width="12" height="12" viewBox="0 0 12 12" fill="none" stroke="#222" stroke-width="1.15" stroke-linecap="round"><line x1="1.4" y1="5.3" x2="1.4" y2="8"/><line x1="3.8" y1="2.8" x2="3.8" y2="6"/><line x1="6.4" y1="0.8" x2="6.4" y2="6.6"/><path d="M1.2,10.6 L3.9,8.1 L6.1,9.1 L9.5,5.8"/><circle cx="9.6" cy="5.6" r="1" fill="#222" stroke="none"/></svg>
  <svg class="abs" style="left:215.5px;top:92.5px" width="11" height="11" viewBox="0 0 11 11" fill="none" stroke="#222" stroke-width="1.1" stroke-linejoin="round"><path d="M0.5,0.8 H2.4 L3.8,7 H9.3 L10.4,2.6 H3"/><line x1="3.5" y1="5" x2="9.8" y2="5"/><rect x="3.4" y="8.6" width="1.6" height="1.6" fill="#222" stroke="none"/><rect x="8" y="8.6" width="1.6" height="1.6" fill="#222" stroke="none"/></svg>
  <svg class="abs" style="left:241px;top:92px" width="10" height="11.5" viewBox="0 0 10 11.5" fill="none" stroke="#222" stroke-width="1.1" stroke-linejoin="round"><path d="M1.5,8.6 V5.2 C1.5,3 3,1.7 5,1.7 M8.2,5 V8.6 L9.3,9.6 H0.4 L1.5,8.6"/><path d="M4,10.8 H6"/><circle cx="8" cy="2" r="1.4" fill="#222" stroke="none"/></svg>

  <!-- stat cards -->
  <div class="abs scard" style="left:34.8px;top:113.2px;background:#e7f0fd;box-shadow:0 1px 1.5px rgba(90,140,210,0.35)"></div>
  <div class="abs scard" style="left:109.5px;top:113.2px;background:#e7f3ec;box-shadow:0 1px 1.5px rgba(90,160,120,0.35)"></div>
  <div class="abs scard" style="left:184.2px;top:113.2px;background:#fdf4e2;box-shadow:0 1px 1.5px rgba(220,180,100,0.35)"></div>
  <div class="abs pp snum" style="left:48.8px;top:127px;color:#1877e0;font-size:13.2px">60</div>
  <div class="abs pp snum" style="left:123px;top:122.6px;color:#1d7a47">05</div>
  <div class="abs pp snum" style="left:198px;top:122.6px;color:#f0a80c">10</div>
  <svg class="abs" style="left:77.8px;top:127.2px" width="11" height="11" viewBox="0 0 11 11" fill="none" stroke="#2b7de0" stroke-width="1.1"><path d="M6,10.2 H1.8 a1,1 0 0 1 -1,-1 V1.5 a1,1 0 0 1 1,-1 H6.8 a1,1 0 0 1 1,1 V5"/><rect x="3" y="0.6" width="2.5" height="3" fill="#2b7de0"/><circle cx="8.6" cy="8.5" r="2.2" fill="#2b7de0" stroke="none"/><path d="M8.6,7.4 V9.6 M7.5,8.5 H9.7" stroke="#fff" stroke-width="0.8"/></svg>
  <svg class="abs" style="left:150px;top:127px" width="12" height="8" viewBox="0 0 12 8" fill="none" stroke="#1d7a47" stroke-width="1" stroke-linecap="round"><path d="M0.8,4.5 L3,6.8 L8,1.5"/><path d="M4.5,5.5 L5.8,6.8 L11,1.5"/><path d="M2.5,5.5 L3.5,6.5" /></svg>
  <svg class="abs" style="left:225px;top:125.5px" width="12" height="12" viewBox="0 0 12 12" fill="none" stroke="#f0a80c" stroke-width="0.9"><circle cx="6" cy="6.5" r="2.4"/><path d="M6,1 V3 M6,10 V12 M0.5,6.5 H2.5 M9.5,6.5 H11.5 M2,2.5 L3.4,3.9 M8.6,9.1 L10,10.5 M10,2.5 L8.6,3.9 M3.4,9.1 L2,10.5"/></svg>
  <div class="abs ar slbl" style="right:214.8px;top:146.5px;color:#4f83d6">إجمالي<br>التسجيل</div>
  <div class="abs ar slbl" style="right:136.6px;top:143.5px;color:#2f9a5e">تم<br>التسجيل</div>
  <div class="abs ar slbl" style="right:65.8px;top:143.5px;color:#d9a232">النقاط<br>المكتسبة</div>

  <!-- resume learning -->
  <div class="abs ar" style="right:51px;top:181.5px;font-size:8px;font-weight:600;color:#1b1b1b;white-space:nowrap">استئناف التعلم للورانس</div>
  <div class="abs pp" style="right:117px;top:204.5px;width:160px;text-align:right;font-size:6.6px;font-weight:600;color:#1b1b1b;line-height:9.6px">Learn Figma for UI UX Design (with a Design Project)</div>
  <div class="abs ar" style="right:117px;top:224.5px;width:150px;text-align:right;font-size:5.6px;color:#555;line-height:8.5px">تعلم Figma لتصميم واجهة المستخدم وتجربة المستخدم (مع مشروع تصميم)</div>
  <div class="abs" style="left:34.8px;top:244.8px;width:43.2px;height:16.2px;border-radius:8.1px;background:#0b7bf5"></div>
  <div class="abs ar" style="left:34.8px;top:245.8px;width:43.2px;text-align:center;font-size:5.6px;color:#fff;line-height:13px">سيرة ذاتية</div>
  <div class="abs pp" style="left:86.5px;top:249px;font-size:5.4px;font-weight:600;color:#333;line-height:8px">50%</div>
  <div class="abs" style="left:101.5px;top:252.3px;width:83px;height:1.6px;background:#d4e6fb;border-radius:1px"></div>
  <div class="abs" style="left:101.5px;top:252.1px;width:52px;height:2px;background:#1f7fe8;border-radius:1px"></div>
  <svg class="abs" style="left:189px;top:204px;border-radius:3px" width="60.5" height="60.5" viewBox="0 0 60 60">
    <rect width="60" height="60" fill="#17284a"/>
    <rect x="18.5" y="8.5" width="23" height="45" rx="4.5" fill="#0f1d38" stroke="#dfe7f2" stroke-width="1.5"/>
    <rect x="25" y="9.5" width="10" height="1.8" rx="0.9" fill="#dfe7f2"/>
    <rect x="13" y="17" width="14" height="13" rx="1" fill="#1e8ff0"/><rect x="31" y="17" width="14" height="13" rx="1" fill="#f37d4a"/>
    <text x="20" y="26.5" font-family="Liberation Sans, sans-serif" font-size="7" fill="#fff" text-anchor="middle">UI</text><text x="38" y="26.5" font-family="Liberation Sans, sans-serif" font-size="7" fill="#fff" text-anchor="middle">UX</text>
    <rect x="22" y="34" width="8" height="8" fill="#36519a"/><rect x="32" y="35" width="7" height="1.2" fill="#9ab"/><rect x="32" y="38" width="7" height="1.2" fill="#f37d4a"/><rect x="32" y="41" width="7" height="1.2" fill="#9ab"/>
    <rect x="26" y="47" width="8" height="2.5" rx="1" fill="#1e8ff0"/>
    <circle cx="8" cy="20" r="4" fill="none" stroke="#f37d4a" stroke-width="1" opacity="0.7"/><circle cx="52" cy="24" r="4" fill="none" stroke="#1e8ff0" stroke-width="1" opacity="0.7"/>
    <rect x="3" y="7" width="10" height="2" rx="1" fill="#2d5aa0"/><rect x="48" y="8" width="5" height="5" rx="1" fill="#f37d4a"/><rect x="54" y="8" width="5" height="5" rx="1" fill="#1e8ff0"/>
    <rect x="4" y="34" width="8" height="3" rx="1.5" fill="#e6584b"/><rect x="4" y="39" width="8" height="3" rx="1.5" fill="#e6eef8"/>
    <rect x="3" y="48" width="5" height="5" rx="1" fill="#f37d4a"/><rect x="46" y="46" width="12" height="3" rx="1" fill="#1e8ff0"/><rect x="46" y="51" width="12" height="3" rx="1" fill="#f3a04a"/>
  </svg>
  <div class="abs" style="left:30px;top:267.5px;width:224px;height:0.8px;background:#e6e6e6"></div>

  <!-- tabs -->
  <div class="abs ar tab" style="right:60px;top:278.5px;color:#222">الشهادات</div>
  <div class="abs ar tab" style="right:150px;top:278.5px;color:#4c93e6">شارات</div>
  <div class="abs ar tab" style="right:230px;top:278.5px;color:#222">المتصدرين</div>
  <div class="abs" style="left:30px;top:298.3px;width:224px;height:0.8px;background:#cfe2f8"></div>
  <div class="abs" style="left:130.5px;top:296.8px;width:27px;height:2.2px;border-radius:1.2px 1.2px 0 0;background:#1d7fe6"></div>

  <!-- achievements -->
  <div class="abs pp" style="right:51.5px;top:309px;font-size:8.4px;font-weight:600;color:#111;white-space:nowrap;line-height:12px">Achievements</div>
  <div class="abs pp" style="right:51.5px;top:321.5px;font-size:5.3px;color:#555;white-space:nowrap;line-height:8px">Recognition earned for milestones and excellence in learning</div>
  <svg class="abs" style="left:35.5px;top:344.5px" width="11" height="8" viewBox="0 0 11 8" stroke="#222" stroke-width="1.2"><line x1="0.5" y1="1" x2="10.5" y2="1"/><line x1="2.5" y1="4" x2="8.5" y2="4"/><line x1="4.3" y1="7" x2="6.7" y2="7"/></svg>
  <div class="abs" style="left:53px;top:340px;width:196px;height:17.6px;border-radius:9px;background:#ececec"></div>
  <svg class="abs" style="left:58.5px;top:344.5px" width="8" height="8" viewBox="0 0 8 8" fill="none" stroke="#777" stroke-width="0.9"><circle cx="3.2" cy="3.2" r="2.5"/><line x1="5" y1="5" x2="7.5" y2="7.5"/></svg>
  <div class="abs pp" style="left:69.5px;top:344px;font-size:6.3px;color:#8a8a8a;line-height:9px">Search</div>

  <!-- list items -->
  <div class="abs" style="left:30px;top:368px;width:224px;height:37.5px;background:#f8f8f8;border-radius:2px"></div>
  <div class="abs" style="left:30px;top:411px;width:224px;height:38px;background:#f9f9f9;border-radius:2px"></div>
  <div class="abs" style="left:30px;top:454.5px;width:224px;height:38.5px;background:#f8f8f8;border-radius:2px"></div>
  <svg class="abs" style="left:228px;top:375px" width="20" height="24" viewBox="0 0 20 24"><path d="M2,1 H18 L16,7 H4 Z" fill="#e07a3a"/><path d="M1.5,5.5 H18.5 V16 L10,23 L1.5,16 Z" fill="#2f59b8"/><path d="M3.5,7 H16.5 V15.2 L10,20.5 L3.5,15.2 Z" fill="#4a7be0"/><circle cx="10" cy="12.5" r="4.3" fill="#2a4fa8" stroke="#9cb8ef" stroke-width="0.8"/><path d="M10,10 L10.8,12 L12.8,12.1 L11.2,13.3 L11.8,15.3 L10,14.1 L8.2,15.3 L8.8,13.3 L7.2,12.1 L9.2,12 Z" fill="#f0a13a"/></svg>
  <div class="abs ar ltitle" style="right:84px;top:371.5px">متعلم معتمد</div>
  <div class="abs ar lsub" style="right:84px;top:382px">قيادة التغيير في العصر الرقمي</div>
  <div class="abs ar lsub" style="right:84px;top:392.5px;color:#777">تم الحصول عليها في: 10 يوليو 2025</div>
  <div class="abs pp ltitle" style="left:134px;top:416.3px">Skill Master</div>
  <svg class="abs" style="left:228px;top:460px" width="20" height="26" viewBox="0 0 20 26"><path d="M10,25 L2,17 H18 Z" fill="#e85b3a"/><path d="M10,25 L5,20 H15 Z" fill="#f5b52a"/></svg>
  <div class="abs ar lsub" style="right:84px;top:479px;color:#777">تم الحصول عليها في: 10 يوليو 2025</div>

  <!-- bottom nav -->
  <div class="abs" style="left:24px;top:502px;width:237px;height:70px;background:#fff;border-radius:24px 24px 0 0;box-shadow:0 -1px 2px rgba(0,0,0,0.08);border-top:0.8px solid #e8e8e8"></div>
  <div class="abs" style="left:170px;top:513px;width:32px;height:18px;border-radius:9px;background:#d7e8fc"></div>
  <svg class="abs" style="left:48px;top:516px" width="12" height="12" viewBox="0 0 12 12" fill="none" stroke="#333" stroke-width="1.1"><circle cx="6" cy="6" r="5.2"/><circle cx="6" cy="4.8" r="1.9"/><path d="M2.8,9.6 C4,7.6 8,7.6 9.2,9.6"/></svg>
  <svg class="abs" style="left:92px;top:516px" width="12" height="12" viewBox="0 0 12 12"><circle cx="6" cy="6" r="5.2" fill="none" stroke="#333" stroke-width="1.1"/><path d="M4.7,3.6 L8.4,6 L4.7,8.4 Z" fill="#333"/></svg>
  <svg class="abs" style="left:136.5px;top:516px" width="11" height="11" viewBox="0 0 11 11" fill="none" stroke="#333" stroke-width="1.3"><circle cx="4.3" cy="4.3" r="3.3"/><line x1="6.8" y1="6.8" x2="10" y2="10" stroke-linecap="round"/></svg>
  <svg class="abs" style="left:179.5px;top:516.5px" width="13" height="10" viewBox="0 0 13 10"><path d="M0.5,3.5 L6.5,0.5 L12.5,3.5 L6.5,6.5 Z" fill="#1a73e8"/><path d="M3,5 V7.6 C5,9.6 8,9.6 10,7.6 V5 L6.5,6.9 Z" fill="#1a73e8"/><line x1="11.5" y1="4" x2="11.5" y2="7.5" stroke="#1a73e8" stroke-width="0.8"/></svg>
  <svg class="abs" style="left:224.5px;top:516px" width="11" height="11" viewBox="0 0 11 11" fill="none" stroke="#333" stroke-width="1.1"><rect x="0.6" y="0.6" width="4" height="4" rx="0.5"/><rect x="6.4" y="0.6" width="4" height="4" rx="0.5"/><rect x="0.6" y="6.4" width="4" height="4" rx="0.5"/><rect x="6.4" y="6.4" width="4" height="4" rx="0.5"/></svg>
  <div class="abs ar nlbl" style="left:34px;width:40px;top:532px">حساب</div>
  <div class="abs ar nlbl" style="left:78px;width:40px;top:532px">تعلمي</div>
  <div class="abs ar nlbl" style="left:122px;width:40px;top:532px">بحث</div>
  <div class="abs ar nlbl" style="left:156px;width:60px;top:532px">نظام إدارة التعلم</div>
  <div class="abs ar nlbl" style="left:210px;width:40px;top:532px">مركز</div>
  <div class="abs" style="left:90px;top:550px;width:103px;height:2.2px;border-radius:1.1px;background:#b9b9b9"></div>
 </div>
</div>

<!-- ============ BANNERS ============ -->
<div class="abs banner ar" style="left:1540px;top:63px;width:400px;height:58.5px;"><span class="abs" style="right:30.5px;top:11.2px;font-size:17.4px;white-space:nowrap">حلول LMS الفعّالة للمؤسسات القطرية</span></div>
<div class="abs banner ar" style="left:99px;top:420px;width:380px;height:58.5px;"><span class="abs" style="right:10px;top:10.5px;font-size:17.4px;white-space:nowrap">حلول إدارة التعلم في مؤسسات قطر</span></div>
</body>
</html>
